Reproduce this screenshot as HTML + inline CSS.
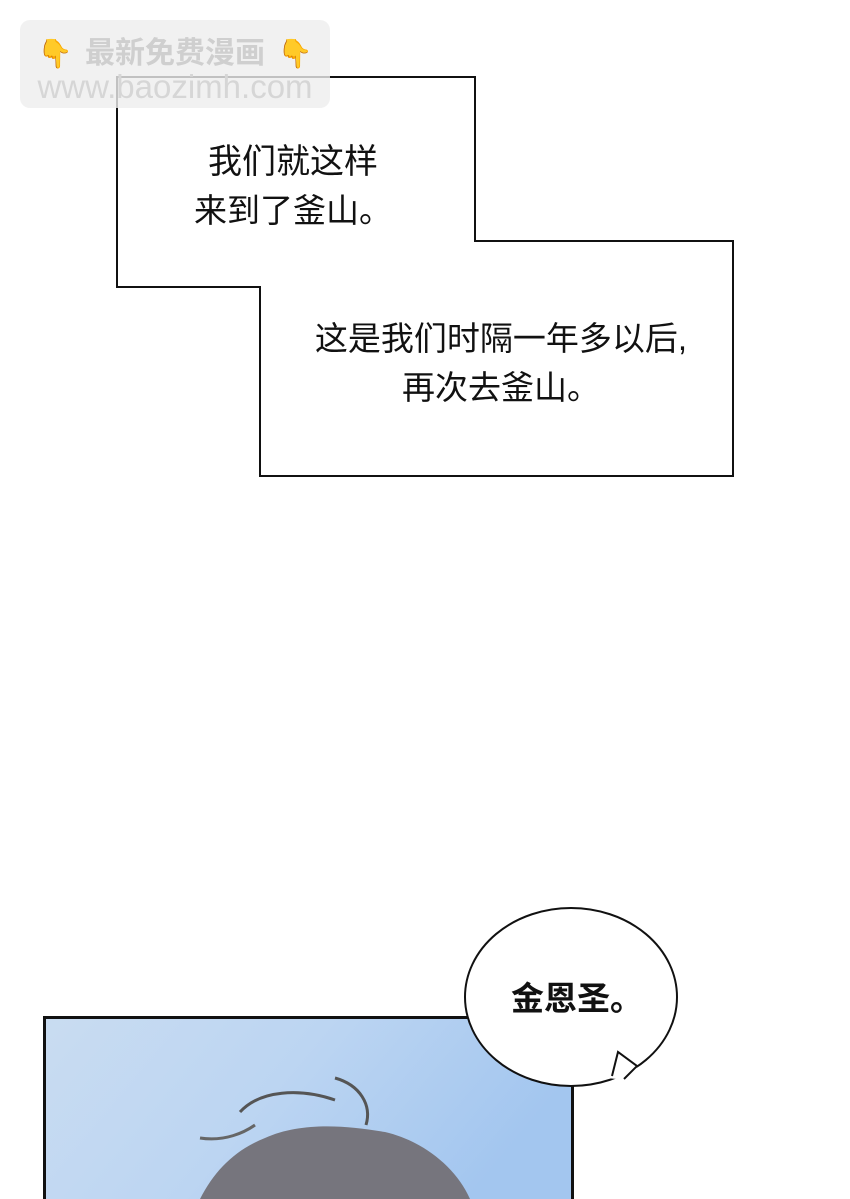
<!DOCTYPE html>
<html><head><meta charset="utf-8"><style>
html,body{margin:0;padding:0;background:#fff;width:850px;height:1199px;overflow:hidden}
</style></head><body>
<svg width="850" height="1199" xmlns="http://www.w3.org/2000/svg" style="display:block">
<defs>
<linearGradient id="sky" x1="0" y1="0" x2="1" y2="0.3">
<stop offset="0" stop-color="#c9dcf1"/><stop offset="0.5" stop-color="#bcd5f2"/><stop offset="1" stop-color="#a3c6ef"/>
</linearGradient>
</defs>
<polygon points="117,77 475,77 475,241 733,241 733,476 260,476 260,287 117,287" fill="#fff" stroke="#111" stroke-width="2"/>
<g font-family="'Liberation Sans','Noto Sans CJK SC',sans-serif" fill="#111" text-anchor="middle">
<text x="293" y="173" font-size="34">我们就这样</text>
<text x="293" y="222" font-size="33">来到了釜山。</text>
<text x="501" y="350" font-size="33">这是我们时隔一年多以后,</text>
<text x="501" y="399" font-size="33">再次去釜山。</text>
</g>
<rect x="44.5" y="1017.5" width="528" height="190" fill="url(#sky)" stroke="#111" stroke-width="3"/>
<path d="M200,1199 C215,1170 235,1150 265,1138 C300,1122 345,1125 385,1132 C420,1140 455,1165 470,1199 Z" fill="#76757d"/>
<path d="M200,1138 C225,1142 245,1132 255,1125" stroke="#666" stroke-width="3" fill="none"/>
<path d="M240,1112 C260,1090 300,1088 335,1100" stroke="#555" stroke-width="3" fill="none"/>
<path d="M335,1078 C360,1085 372,1105 366,1125" stroke="#555" stroke-width="3" fill="none"/>
<ellipse cx="571" cy="997" rx="106" ry="89" fill="#fff" stroke="#111" stroke-width="2"/>
<polygon points="606,1078 618,1052 638,1066 628,1080" fill="#fff"/>
<path d="M612,1076 L618,1052 L637,1066 L624,1079" fill="none" stroke="#111" stroke-width="2"/>
<text x="577" y="1010" font-family="'Liberation Sans','Noto Sans CJK SC',sans-serif" font-size="33" font-weight="bold" fill="#111" text-anchor="middle">金恩圣。</text>
<rect x="20" y="20" width="310" height="88" rx="10" fill="#eee" opacity="0.8"/>
<text x="55" y="63" font-family="'Noto Sans CJK SC',sans-serif" font-size="28" fill="#f2b531" text-anchor="middle">👇</text>
<text x="295" y="63" font-family="'Noto Sans CJK SC',sans-serif" font-size="28" fill="#f2b531" text-anchor="middle">👇</text>
<text x="175" y="63" font-family="'Liberation Sans','Noto Sans CJK SC',sans-serif" font-size="30" font-weight="bold" fill="#cfcfcf" text-anchor="middle">最新免费漫画</text>
<text x="175" y="98" font-family="'Liberation Sans',sans-serif" font-size="33" fill="#d6d6d6" text-anchor="middle">www.baozimh.com</text>
</svg>
</body></html>
